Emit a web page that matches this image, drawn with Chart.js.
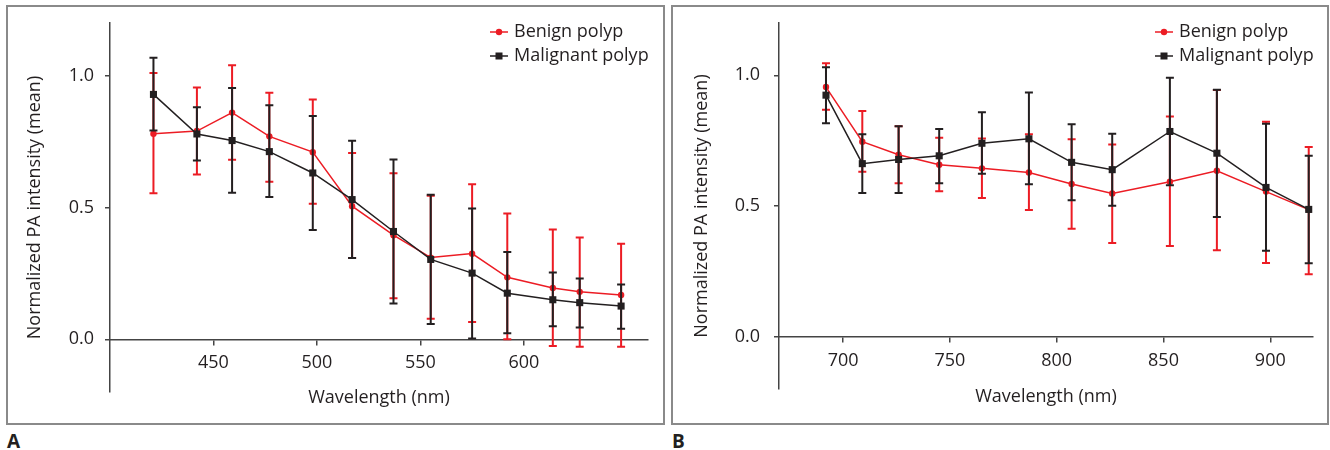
<!DOCTYPE html>
<html>
<head>
    <meta charset="UTF-8">
    <title>Normalized PA intensity</title>
    <script src="https://cdn.jsdelivr.net/npm/chart.js"></script>
    <style>
        body {
            margin: 0;
            padding: 0;
            background: white;
            font-family: "Open Sans", sans-serif;
        }

        #page {
            position: relative;
            width: 1330px;
            height: 450px;
        }

        .panel {
            position: absolute;
            top: 5px;
            height: 420px;
            border: 2px solid #8a8a8a;
            box-sizing: border-box;
        }

        .tag {
            position: absolute;
            top: 428px;
            font-weight: bold;
            font-size: 19px;
            color: #231f20;
        }

        canvas {
            position: absolute;
            top: 0;
        }
    </style>
</head>
<body>
    <div id="page">
        <div class="panel" style="left: 6px; width: 659px;"></div>
        <div class="panel" style="left: 671px; width: 658px;"></div>
        <div class="tag" style="left: 7px;">A</div>
        <div class="tag" style="left: 672px;">B</div>
        <canvas id="chartA" width="665" height="450" style="left: 0px;"></canvas>
        <canvas id="chartB" width="665" height="450" style="left: 665px;"></canvas>
    </div>

    <script>
        // Painel A (visível)
        var wlA = [421, 442, 459, 477, 498, 517, 537, 555, 575, 592, 614, 627, 647];
        var benignA = [0.78, 0.79, 0.86, 0.77, 0.71, 0.505, 0.395, 0.31, 0.325, 0.235, 0.195, 0.18, 0.168];
        var benignAHi = [1.01, 0.955, 1.04, 0.935, 0.91, 0.707, 0.63, 0.545, 0.588, 0.477, 0.417, 0.386, 0.362];
        var benignALo = [0.554, 0.625, 0.681, 0.598, 0.514, 0.308, 0.156, 0.078, 0.066, 0.0, -0.025, -0.028, -0.028];
        var malignantA = [0.929, 0.779, 0.754, 0.712, 0.631, 0.53, 0.409, 0.303, 0.251, 0.175, 0.15, 0.139, 0.126];
        var malignantAHi = [1.068, 0.88, 0.953, 0.888, 0.847, 0.753, 0.682, 0.548, 0.496, 0.331, 0.253, 0.231, 0.208];
        var malignantALo = [0.792, 0.678, 0.556, 0.54, 0.415, 0.308, 0.136, 0.058, 0.003, 0.023, 0.049, 0.045, 0.04];

        // Painel B (infravermelho)
        var wlB = [692, 709, 726, 745, 765, 787, 807, 826, 853, 875, 898, 918];
        var benignB = [0.955, 0.746, 0.696, 0.658, 0.644, 0.628, 0.584, 0.548, 0.593, 0.635, 0.555, 0.486];
        var benignBHi = [1.046, 0.863, 0.805, 0.761, 0.758, 0.774, 0.755, 0.735, 0.842, 0.944, 0.822, 0.726];
        var benignBLo = [0.868, 0.631, 0.587, 0.556, 0.531, 0.485, 0.413, 0.358, 0.347, 0.331, 0.282, 0.239];
        var malignantB = [0.924, 0.662, 0.678, 0.692, 0.74, 0.757, 0.667, 0.639, 0.785, 0.702, 0.571, 0.487];
        var malignantBHi = [1.031, 0.774, 0.805, 0.795, 0.859, 0.934, 0.813, 0.776, 0.991, 0.945, 0.815, 0.692];
        var malignantBLo = [0.817, 0.55, 0.55, 0.587, 0.623, 0.583, 0.522, 0.501, 0.579, 0.458, 0.329, 0.281];

        var xTicksA = [450, 500, 550, 600];
        var xTicksB = [700, 750, 800, 850, 900];
        var yTicks = [0, 0.5, 1.0];

        var RED = '#ec1c24';
        var BLACK = '#231f20';
        var AXIS = '#444444';
        var FONT = { family: '"Open Sans", sans-serif', size: 18 };

        Chart.defaults.color = BLACK;
        Chart.defaults.font.family = FONT.family;
        Chart.defaults.font.size = FONT.size;

        function toPoints(xs, ys) {
            return xs.map(function(x, i) { return { x: x, y: ys[i] }; });
        }

        // Barras de erro desenhadas antes de cada série
        var errorBars = {
            id: 'errorBars',
            beforeDatasetDraw: function(chart, args) {
                var ds = chart.data.datasets[args.index];
                var ctx = chart.ctx;
                var yScale = chart.scales.y;
                ctx.save();
                ctx.strokeStyle = ds.borderColor;
                ctx.lineWidth = 2;
                args.meta.data.forEach(function(pt, i) {
                    var yHi = yScale.getPixelForValue(ds.errHi[i]);
                    var yLo = yScale.getPixelForValue(ds.errLo[i]);
                    ctx.beginPath();
                    ctx.moveTo(pt.x, yHi);
                    ctx.lineTo(pt.x, yLo);
                    ctx.moveTo(pt.x - 4, yHi);
                    ctx.lineTo(pt.x + 4, yHi);
                    ctx.moveTo(pt.x - 4, yLo);
                    ctx.lineTo(pt.x + 4, yLo);
                    ctx.stroke();
                });
                ctx.restore();
            }
        };

        // Legenda no canto superior direito da área do gráfico
        var cornerLegend = {
            id: 'cornerLegend',
            afterDraw: function(chart) {
                var ctx = chart.ctx;
                var area = chart.chartArea;
                var x0 = area.right - 158;
                ctx.save();
                ctx.font = FONT.size + 'px ' + FONT.family;
                ctx.textBaseline = 'middle';
                chart.data.datasets.forEach(function(ds, i) {
                    var y = area.top + 9 + i * 24;
                    ctx.strokeStyle = ds.borderColor;
                    ctx.lineWidth = 1.5;
                    ctx.beginPath();
                    ctx.moveTo(x0, y);
                    ctx.lineTo(x0 + 18, y);
                    ctx.stroke();
                    ctx.fillStyle = ds.borderColor;
                    if (ds.pointStyle === 'rect') {
                        ctx.fillRect(x0 + 5.5, y - 3.5, 7, 7);
                    } else {
                        ctx.beginPath();
                        ctx.arc(x0 + 9, y, 3.2, 0, Math.PI * 2);
                        ctx.fill();
                    }
                    ctx.fillStyle = BLACK;
                    ctx.fillText(ds.label, x0 + 24, y);
                });
                ctx.restore();
            }
        };

        function createChart(id, p) {
            var ctx = document.getElementById(id).getContext('2d');
            return new Chart(ctx, {
                type: 'line',
                data: {
                    datasets: [
                        {
                            label: 'Benign polyp',
                            data: toPoints(p.wl, p.benign),
                            errHi: p.benignHi,
                            errLo: p.benignLo,
                            borderColor: RED,
                            backgroundColor: RED,
                            borderWidth: 1.5,
                            pointStyle: 'circle',
                            pointRadius: 3.2,
                            pointBorderWidth: 0,
                            order: 1
                        },
                        {
                            label: 'Malignant polyp',
                            data: toPoints(p.wl, p.malignant),
                            errHi: p.malignantHi,
                            errLo: p.malignantLo,
                            borderColor: BLACK,
                            backgroundColor: BLACK,
                            borderWidth: 1.5,
                            pointStyle: 'rect',
                            pointRadius: 5,
                            pointBorderWidth: 0,
                            order: 0
                        }
                    ]
                },
                options: {
                    responsive: false,
                    animation: false,
                    layout: { padding: p.padding },
                    plugins: {
                        legend: { display: false },
                        tooltip: { enabled: false }
                    },
                    scales: {
                        x: {
                            type: 'linear',
                            position: { y: 0 },
                            min: p.xMin,
                            max: p.xMax,
                            afterBuildTicks: function(s) {
                                s.ticks = p.xTicks.map(function(v) { return { value: v }; });
                            },
                            afterFit: function(s) {
                                s.height = p.xHeight;
                                s.paddingLeft = 0;
                                s.paddingRight = 0;
                            },
                            grid: {
                                display: true,
                                drawOnChartArea: false,
                                drawTicks: true,
                                tickLength: 5,
                                color: AXIS,
                                lineWidth: 1.5
                            },
                            border: { display: true, color: AXIS, width: 1.5 },
                            ticks: {
                                padding: 8,
                                maxRotation: 0,
                                color: BLACK,
                                font: FONT
                            },
                            title: {
                                display: true,
                                text: 'Wavelength (nm)',
                                color: BLACK,
                                font: FONT,
                                padding: { top: 4, bottom: 4 }
                            }
                        },
                        y: {
                            type: 'linear',
                            position: 'left',
                            min: -0.2,
                            max: 1.2,
                            afterBuildTicks: function(s) {
                                s.ticks = yTicks.map(function(v) { return { value: v }; });
                            },
                            afterFit: function(s) {
                                s.width = p.yWidth;
                                s.paddingTop = 0;
                                s.paddingBottom = 0;
                            },
                            grid: {
                                display: true,
                                drawOnChartArea: false,
                                drawTicks: true,
                                tickLength: 5,
                                color: AXIS,
                                lineWidth: 1.5
                            },
                            border: { display: true, color: AXIS, width: 1.5 },
                            ticks: {
                                padding: p.yPad,
                                color: BLACK,
                                font: FONT,
                                callback: function(v) { return Number(v).toFixed(1); }
                            },
                            title: {
                                display: true,
                                text: 'Normalized PA intensity (mean)',
                                color: BLACK,
                                font: FONT,
                                padding: { top: 4, bottom: 4 }
                            }
                        }
                    }
                },
                plugins: [errorBars, cornerLegend]
            });
        }

        var chartA = createChart('chartA', {
            wl: wlA,
            benign: benignA, benignHi: benignAHi, benignLo: benignALo,
            malignant: malignantA, malignantHi: malignantAHi, malignantLo: malignantALo,
            xMin: 400, xMax: 660, xTicks: xTicksA,
            padding: { left: 20, top: 23, right: 17, bottom: 58 },
            yWidth: 90, xHeight: 73, yPad: 11
        });

        var chartB = createChart('chartB', {
            wl: wlB,
            benign: benignB, benignHi: benignBHi, benignLo: benignBLo,
            malignant: malignantB, malignantHi: malignantBHi, malignantLo: malignantBLo,
            xMin: 670, xMax: 920, xTicks: xTicksB,
            padding: { left: 22, top: 23, right: 17, bottom: 61 },
            yWidth: 92, xHeight: 75, yPad: 14
        });
    </script>
</body>
</html>
